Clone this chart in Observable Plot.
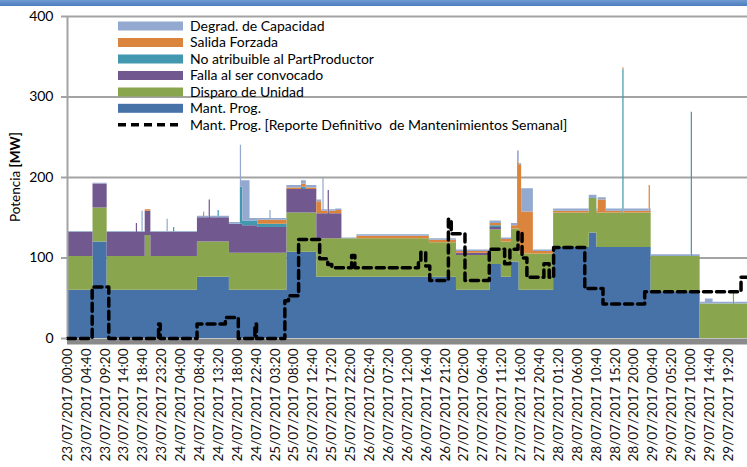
<!DOCTYPE html>
<html>
<head>
<meta charset="utf-8">
<script src="https://cdn.jsdelivr.net/npm/d3@7"></script>
<script src="https://cdn.jsdelivr.net/npm/@observablehq/plot@0.6"></script>
<style>
  html, body { margin: 0; padding: 0; background: #fff; }
  #wrap { position: relative; width: 747px; height: 467px; overflow: hidden; }
  #topbar { position: absolute; left: 0; top: 0; width: 747px; height: 6px; background: linear-gradient(#6f9bd2, #4d7dbd); }
  #chart { position: absolute; left: 0; top: 0; }
</style>
</head>
<body>
<div id="wrap"><div id="chart"></div><div id="topbar"></div></div>
<script>
// ---- Data (hours from 23/07/2017 00:00) ----
const hours    = [0, 6.3, 9.8, 17.0, 17.3, 18.4, 18.7, 19.2, 20.6, 24.6, 24.9, 26.2, 26.5, 32.1, 33.6, 33.9, 35.0, 35.3, 37.2, 37.5,
                  40.0, 42.7, 43.0, 43.3, 45.1, 47.0, 50.0, 50.3, 54.2, 57.8, 59.0, 61.6, 62.8, 63.1, 63.4, 64.4, 64.7, 66.3, 67.8, 71.5,
                  89.4, 96.1, 104.4, 107.2, 109.7, 111.2, 111.6, 112.2, 115.1, 120.1, 128.9, 130.8, 131.1, 133.1, 137.2, 137.5, 143.7, 144.0, 144.2, 154.1,
                  154.4, 156.3, 157.6, 159.5, 164.5, 164.8, 168];
const mantProg = [60, 120, 60, 60, 60, 60, 60, 60, 60, 60, 60, 60, 60, 76, 76, 76, 76, 76, 76, 76,
                  60, 60, 60, 60, 60, 60, 60, 60, 107, 107, 107, 76, 76, 76, 76, 76, 76, 76, 76, 76,
                  76, 60, 92, 76, 95, 95, 60, 60, 60, 113, 131, 113, 113, 113, 113, 113, 113, 113, 58, 58,
                  58, 0, 0, 0, 0, 0, 0];
const disparo  = [42, 42, 42, 42, 42, 42, 42, 68, 42, 42, 42, 42, 42, 44, 44, 44, 44, 44, 44, 44,
                  46, 46, 46, 46, 46, 46, 46, 46, 49, 49, 49, 48, 48, 48, 48, 48, 48, 48, 48, 48,
                  43, 43, 43, 44, 41, 41, 45, 45, 45, 43, 43, 43, 43, 43, 43, 43, 43, 43, 44, 44,
                  44, 43, 43, 43, 57, 43, 43];
const falla    = [30, 30, 30, 41, 30, 30, 30, 30, 30, 30, 30, 30, 30, 30, 30, 30, 52, 30, 30, 30,
                  36, 36, 36, 34, 34, 32, 32, 32, 29, 29, 29, 31, 31, 31, 31, 60, 31, 31, 0, 0,
                  0, 3, 3, 0, 0, 0, 0, 0, 0, 0, 0, 0, 0, 0, 0, 0, 0, 0, 0, 0,
                  0, 0, 0, 0, 0, 0, 0];
const noAtrib  = [0, 0, 0, 0, 0, 0, 0, 0, 0, 0, 0, 6, 0, 0, 0, 0, 0, 0, 9, 0,
                  0, 46, 46, 6, 6, 4, 4, 4, 0, 3, 0, 0, 0, 0, 0, 0, 0, 0, 0, 0,
                  0, 0, 2, 0, 0, 0, 0, 0, 0, 0, 0, 0, 0, 0, 178, 0, 0, 0, 0, 179,
                  0, 0, 0, 0, 0, 0, 0];
const salida   = [0, 0, 0, 0, 0, 0, 0, 2, 0, 0, 0, 0, 0, 0, 4, 0, 0, 0, 0, 0,
                  0, 0, 0, 0, 0, 5, 5, 5, 2, 4, 2, 15, 3, 3, 3, 0, 3, 4, 0, 3,
                  3, 2, 3, 3, 4, 83, 110, 52, 3, 2, 0, 2, 16, 2, 2, 2, 34, 2, 0, 0,
                  0, 0, 0, 0, 0, 0, 0];
const degrad   = [1, 1, 1, 0, 1, 26, 1, 0, 1, 16, 1, 0, 1, 2, 3, 2, 0, 2, 0, 2,
                  2, 52, 8, 50, 3, 2, 12, 2, 3, 4, 3, 2, 2, 41, 2, 0, 2, 2, 1, 2,
                  2, 2, 3, 2, 3, 14, 2, 29, 2, 3, 4, 3, 3, 3, 0, 3, 0, 3, 2, 0,
                  2, 2, 6, 2, 0, 2, 2];

// Mant. Prog. [Reporte Definitivo de Mantenimientos Semanal] (step line)
const repHours  = [0, 6.1, 10.2, 22.5, 22.9, 32.0, 39.0, 42.2, 46.3, 46.7, 53.7, 54.6, 57.1, 62.3, 64.3, 65.3, 70.2, 71.0, 86.7, 87.3,
                   88.5, 89.5, 94.1, 94.8, 98.2, 104.2, 108.0, 109.3, 111.3, 112.3, 113.5, 117.7, 119.0, 120.1, 127.8, 132.3, 142.6, 166.4, 168];
const repValues = [0, 64, 0, 18, 0, 18, 26, 0, 18, 0, 47, 53, 123, 99, 92, 88, 103, 88, 96, 107,
                   90, 72, 148, 130, 72, 111, 93, 111, 132, 100, 76, 93, 76, 113, 62, 43, 58, 76, 76];

const seriesNames  = ["Mant. Prog.", "Disparo de Unidad", "Falla al ser convocado", "No atribuible al PartProductor", "Salida Forzada", "Degrad. de Capacidad"];
const seriesColors = ["#4672a8", "#89a54e", "#71588f", "#4198af", "#db843d", "#93a9cf"];
const repName = "Mant. Prog. [Reporte Definitivo  de Mantenimientos Semanal]";

const tickLabels = ["23/07/2017 00:00","23/07/2017 04:40","23/07/2017 09:20","23/07/2017 14:00","23/07/2017 18:40","23/07/2017 23:20",
  "24/07/2017 04:00","24/07/2017 08:40","24/07/2017 13:20","24/07/2017 18:00","24/07/2017 22:40","25/07/2017 03:20",
  "25/07/2017 08:00","25/07/2017 12:40","25/07/2017 17:20","25/07/2017 22:00","26/07/2017 02:40","26/07/2017 07:20",
  "26/07/2017 12:00","26/07/2017 16:40","26/07/2017 21:20","27/07/2017 02:00","27/07/2017 06:40","27/07/2017 11:20",
  "27/07/2017 16:00","27/07/2017 20:40","28/07/2017 01:20","28/07/2017 06:00","28/07/2017 10:40","28/07/2017 15:20",
  "28/07/2017 20:00","29/07/2017 00:40","29/07/2017 05:20","29/07/2017 10:00","29/07/2017 14:40","29/07/2017 19:20"];
const yTicks = [0, 100, 200, 300, 400];

// ---- Build ----
const start = Date.UTC(2017, 6, 23);
const T = h => new Date(start + h * 3600e3);
const parseLabel = s => { const [d, t] = s.split(" "); const [dd, mm, yy] = d.split("/").map(Number); const [H, M] = t.split(":").map(Number); return new Date(Date.UTC(yy, mm - 1, dd, H, M)); };
const pad = n => String(n).padStart(2, "0");
const fmt = d => `${pad(d.getUTCDate())}/${pad(d.getUTCMonth() + 1)}/${d.getUTCFullYear()} ${pad(d.getUTCHours())}:${pad(d.getUTCMinutes())}`;

const values = [mantProg, disparo, falla, noAtrib, salida, degrad];
const rows = [];
seriesNames.forEach((s, i) => hours.forEach((h, j) => rows.push({t: T(h), v: values[i][j], s})));
const rep = repHours.map((h, i) => ({t: T(h), v: repValues[i]}));
const tickDates = tickLabels.map(parseLabel);

const chart = Plot.plot({
  width: 747, height: 467,
  marginTop: 16, marginBottom: 129, marginLeft: 67, marginRight: 0,
  style: {fontFamily: "Lato, sans-serif", fontSize: "13.5px", color: "#000", background: "transparent"},
  x: {type: "utc", domain: [T(0), T(168)]},
  y: {domain: [0, 400]},
  color: {domain: seriesNames, range: seriesColors},
  marks: [
    Plot.ruleY(yTicks.slice(1), {stroke: "#a3a3a3", strokeWidth: 2}),
    Plot.areaY(rows, {x: "t", y: "v", fill: "s", z: "s", curve: "step-after", order: seriesNames}),
    Plot.ruleX([T(0)], {stroke: "#a3a3a3", strokeWidth: 2}),
    Plot.ruleY([0], {stroke: "#8a8a8a", strokeWidth: 6, dy: 3}),
    Plot.line(rep, {x: "t", y: "v", curve: "step-after", stroke: "#000", strokeWidth: 3.5, strokeDasharray: "8,5"}),
    Plot.axisX({ticks: tickDates, tickFormat: fmt, tickRotate: -90, tickSize: 0, tickPadding: 10, label: null, fontSize: "13.5px", fill: "#111"}),
    Plot.axisY({ticks: yTicks, tickSize: 6, tickPadding: 8, label: null, fontSize: "14px", stroke: "#a3a3a3", strokeWidth: 2})
  ]
});
document.getElementById("chart").appendChild(chart);

// ---- Legend & y title ----
const svg = d3.select(chart);
const leg = svg.append("g").attr("font-family", "Lato, sans-serif").attr("font-size", "14px").attr("text-anchor", "start");
const legendItems = [...seriesNames].reverse();
const legendColors = [...seriesColors].reverse();
const rowY = [26, 42.5, 59, 75.5, 92, 108.3, 124.8];
legendItems.forEach((name, i) => {
  leg.append("rect").attr("x", 118).attr("y", rowY[i] - 4.5).attr("width", 65).attr("height", 9).attr("fill", legendColors[i]);
  leg.append("text").attr("x", 190).attr("y", rowY[i]).attr("dy", "0.35em").attr("text-anchor", "start").attr("fill", "#000").text(name);
});
leg.append("line").attr("x1", 118).attr("x2", 183).attr("y1", rowY[6]).attr("y2", rowY[6])
  .attr("stroke", "#000").attr("stroke-width", 3.5).attr("stroke-dasharray", "8,5");
leg.append("text").attr("x", 190).attr("y", rowY[6]).attr("dy", "0.35em").attr("text-anchor", "start").attr("fill", "#000")
  .style("white-space", "pre").text(repName);

const yt = svg.append("text").attr("transform", "translate(20,177) rotate(-90)").attr("text-anchor", "middle")
  .attr("font-family", "Lato, sans-serif").attr("font-size", "13.5px").attr("fill", "#000");
yt.append("tspan").text("Potencia ");
yt.append("tspan").attr("font-weight", "bold").text("[MW]");
</script>
</body>
</html>
